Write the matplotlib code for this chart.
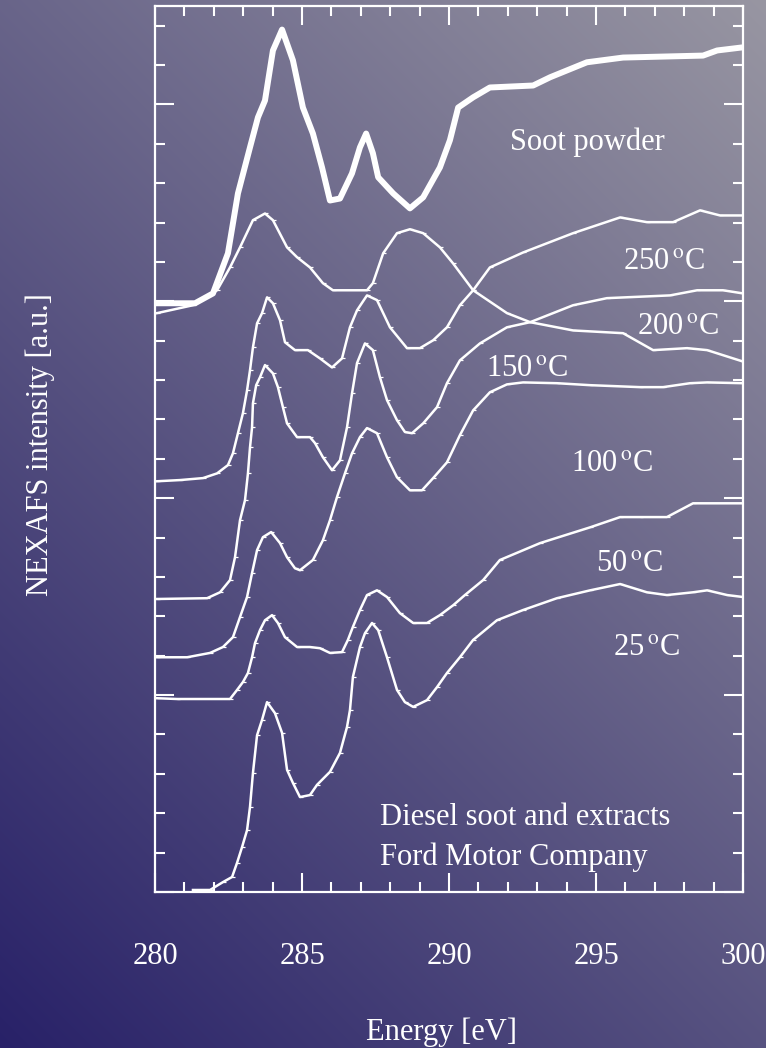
import numpy as np
import matplotlib.pyplot as plt
from matplotlib.ticker import MultipleLocator

plt.rcParams['font.family'] = ['Liberation Serif', 'DejaVu Serif']
plt.rcParams['mathtext.fontset'] = 'stix'

# Photon energy (eV) and stacked NEXAFS intensity (a.u.) for each sample
soot_e = [280.0, 281.36, 281.97, 282.48, 282.82, 283.23, 283.50, 283.74, 284.01, 284.32,
          284.69, 285.03, 285.37, 285.68, 285.95, 286.29, 286.70, 286.97, 287.18, 287.41,
          287.59, 288.10, 288.67, 289.12, 289.69, 290.03, 290.31, 290.82, 291.39, 292.86,
          293.44, 294.69, 295.92, 298.64, 299.12, 300.0]
soot_i = [14.95, 14.95, 15.20, 16.22, 17.74, 18.91, 19.67, 20.10, 21.37, 21.90,
          21.12, 19.92, 19.26, 18.40, 17.56, 17.61, 18.25, 18.91, 19.26, 18.76,
          18.15, 17.74, 17.36, 17.64, 18.40, 19.09, 19.92, 20.18, 20.43, 20.48,
          20.69, 21.07, 21.19, 21.24, 21.37, 21.45]

t250_e = [280.07, 280.85, 281.63, 282.11, 282.48, 282.65, 282.82, 282.99, 283.13, 283.23,
          283.33, 283.47, 283.64, 283.81, 284.01, 284.25, 284.42, 284.76, 285.20, 285.61,
          286.02, 286.36, 286.63, 286.87, 287.21, 287.55, 287.99, 288.57, 289.01, 289.46,
          289.93, 290.37, 290.82, 291.39, 292.52, 294.22, 295.82, 296.73, 297.62, 298.54,
          299.22, 300.0]
t250_i = [10.43, 10.46, 10.51, 10.63, 10.84, 11.14, 11.65, 12.16, 12.74, 13.25,
          13.83, 14.44, 14.70, 15.10, 14.95, 14.52, 13.96, 13.76, 13.76, 13.55,
          13.32, 13.55, 14.34, 14.77, 15.15, 15.03, 14.34, 13.81, 13.81, 14.01,
          14.34, 14.90, 15.28, 15.86, 16.24, 16.73, 17.13, 17.01, 17.01, 17.31,
          17.18, 17.18]

t200_e = [280.07, 281.77, 282.21, 282.55, 282.72, 282.89, 283.06, 283.16, 283.23, 283.30,
          283.33, 283.44, 283.57, 283.74, 284.01, 284.18, 284.35, 284.49, 284.83, 285.27,
          285.44, 285.71, 286.02, 286.29, 286.53, 286.70, 286.87, 287.14, 287.41, 287.65,
          287.89, 288.23, 288.50, 288.74, 289.12, 289.59, 289.93, 290.37, 291.05, 291.97,
          292.76, 294.22, 295.37, 297.52, 298.44, 299.32, 300.0]
t200_i = [7.44, 7.46, 7.61, 7.92, 8.50, 9.44, 9.95, 10.63, 11.29, 11.80,
          12.41, 12.87, 13.07, 13.38, 13.17, 12.82, 12.31, 11.90, 11.55, 11.55,
          11.40, 11.04, 10.71, 10.96, 11.80, 12.66, 13.43, 13.93, 13.76, 13.07,
          12.49, 11.98, 11.68, 11.65, 11.90, 12.31, 12.92, 13.50, 13.93, 14.34,
          14.47, 14.90, 15.08, 15.15, 15.28, 15.28, 15.20]

t150_e = [280.07, 281.29, 282.11, 282.55, 282.89, 283.33, 283.74, 284.01, 284.49, 284.83,
          285.27, 285.71, 286.05, 287.21, 287.41, 287.76, 288.23, 288.67, 289.12, 289.69,
          290.14, 290.82, 291.97, 292.76, 294.22, 295.92, 296.94, 298.10, 298.78, 300.0]
t150_i = [14.70, 14.90, 15.28, 15.86, 16.37, 17.06, 17.23, 17.06, 16.37, 16.12,
          15.86, 15.46, 15.28, 15.28, 15.46, 16.22, 16.73, 16.83, 16.73, 16.37,
          15.96, 15.28, 14.70, 14.47, 14.26, 14.19, 13.76, 13.81, 13.76, 13.47]

t100_e = [280.07, 281.09, 281.87, 282.31, 282.65, 282.89, 283.13, 283.30, 283.47, 283.67,
          283.95, 284.25, 284.49, 284.76, 284.93, 285.37, 285.71, 285.95, 286.19, 286.46,
          286.70, 286.97, 287.21, 287.55, 287.89, 288.23, 288.67, 289.08, 289.46, 289.93,
          290.37, 290.82, 291.39, 291.97, 292.52, 293.67, 294.80, 296.50, 297.28, 298.20,
          298.78, 300.0]
t100_i = [5.96, 5.96, 6.07, 6.22, 6.47, 6.98, 7.49, 8.10, 8.68, 9.01,
          9.14, 8.86, 8.50, 8.22, 8.17, 8.43, 8.93, 9.44, 10.03, 10.63,
          11.14, 11.55, 11.78, 11.65, 11.04, 10.53, 10.20, 10.20, 10.51, 10.91,
          11.60, 12.23, 12.69, 12.89, 12.94, 12.92, 12.87, 12.82, 12.82, 12.92,
          12.94, 12.92]

t50_e = [280.07, 280.75, 282.55, 282.79, 282.99, 283.16, 283.30, 283.40, 283.57, 283.74,
         283.98, 284.18, 284.42, 284.83, 285.27, 285.61, 285.95, 286.36, 286.56, 286.73,
         286.97, 287.21, 287.55, 287.89, 288.33, 288.78, 289.25, 289.69, 290.14, 290.54,
         291.16, 291.73, 293.10, 294.80, 295.82, 296.50, 297.41, 298.30, 300.0]
t50_i = [4.92, 4.90, 4.90, 5.13, 5.33, 5.56, 5.96, 6.32, 6.65, 6.90,
         7.03, 6.83, 6.47, 6.22, 6.22, 6.19, 6.07, 6.09, 6.40, 6.73,
         7.16, 7.54, 7.66, 7.49, 7.08, 6.83, 6.83, 7.03, 7.28, 7.54,
         7.92, 8.43, 8.86, 9.26, 9.52, 9.52, 9.52, 9.87, 9.87]

t25_e = [281.29, 281.87, 282.31, 282.62, 282.79, 282.96, 283.13, 283.23, 283.33, 283.47,
         283.64, 283.81, 284.08, 284.32, 284.49, 284.69, 284.93, 285.27, 285.51, 285.95,
         286.29, 286.53, 286.63, 286.73, 286.97, 287.14, 287.38, 287.59, 287.89, 288.23,
         288.50, 288.78, 289.25, 289.59, 289.93, 290.37, 290.82, 291.63, 292.52, 293.67,
         294.80, 295.82, 296.73, 297.41, 298.30, 298.78, 299.46, 300.0]
t25_i = [0.05, 0.05, 0.25, 0.38, 0.74, 1.14, 1.57, 2.16, 3.02, 3.98,
         4.37, 4.82, 4.54, 4.04, 3.10, 2.77, 2.41, 2.46, 2.72, 3.05,
         3.53, 4.19, 4.62, 5.46, 6.22, 6.57, 6.83, 6.65, 5.96, 5.13,
         4.82, 4.70, 4.87, 5.20, 5.56, 5.96, 6.40, 6.90, 7.16, 7.46,
         7.66, 7.82, 7.61, 7.54, 7.61, 7.66, 7.54, 7.49]

thin_curves = [(t250_e, t250_i), (t200_e, t200_i), (t150_e, t150_i),
               (t100_e, t100_i), (t50_e, t50_i), (t25_e, t25_i)]

# label text, energy, intensity
temp_labels = [("250$\\,^{\\rm o}$C", 297.31, 15.99),
               ("200$\\,^{\\rm o}$C", 297.79, 14.34),
               ("150$\\,^{\\rm o}$C", 292.65, 13.27),
               ("100$\\,^{\\rm o}$C", 295.54, 10.86),
               ("50$\\,^{\\rm o}$C", 296.16, 8.32),
               ("25$\\,^{\\rm o}$C", 296.73, 6.19)]

W, H = 766, 1048
fig = plt.figure(figsize=(W / 100, H / 100), dpi=100)

# diagonal navy-to-grey backdrop
bg = fig.add_axes([0, 0, 1, 1])
yy, xx = np.mgrid[0:H, 0:W]
t = (xx + (H - yy)) / (W + H)
c0 = np.array([40, 33, 104]) / 255
c1 = np.array([152, 150, 162]) / 255
img = c0 + t[..., None] * (c1 - c0)
bg.imshow(img, aspect='auto', extent=[0, 1, 0, 1], origin='upper')
bg.axis('off')

ax = fig.add_axes([0.2024, 0.1489, 0.7676, 0.8454])
ax.patch.set_alpha(0)

ax.plot(soot_e, soot_i, color='white', lw=4.3, solid_joinstyle='round',
        solid_capstyle='butt')
for e, i in thin_curves:
    ax.plot(e, i, color='white', lw=1.8, marker=1, ms=2, mew=0.9)

txt = dict(color='white', fontsize=22)
ax.text(294.69, 19.04, "Soot powder", ha='center', va='center', **txt)
for label, x, y in temp_labels:
    ax.text(x, y, label, ha='center', va='center', **txt)
ax.text(287.65, 1.88, "Diesel soot and extracts", ha='left', va='center', **txt)
ax.text(287.65, 0.89, "Ford Motor Company", ha='left', va='center', **txt)

ax.set_xlim(280, 300)
ax.set_ylim(0, 22.5)
ax.xaxis.set_major_locator(MultipleLocator(5))
ax.xaxis.set_minor_locator(MultipleLocator(1))
ax.yaxis.set_major_locator(MultipleLocator(5))
ax.yaxis.set_minor_locator(MultipleLocator(1))
for s in ax.spines.values():
    s.set_color('white')
    s.set_linewidth(1.6)
ax.tick_params(which='both', direction='in', top=True, right=True,
               color='white', width=1.5)
ax.tick_params(which='major', length=13.5)
ax.tick_params(which='minor', length=7.5)
ax.tick_params(axis='x', labelsize=22, labelcolor='white', pad=36)
ax.tick_params(axis='y', labelleft=False)

fig.text(441 / W, 1 - 1032 / H, "Energy [eV]", ha='center', va='center', **txt)
fig.text(40 / W, 1 - 445 / H, "NEXAFS intensity [a.u.]", rotation=90,
         ha='center', va='center', **txt)

fig.savefig('out.png', dpi=100)
